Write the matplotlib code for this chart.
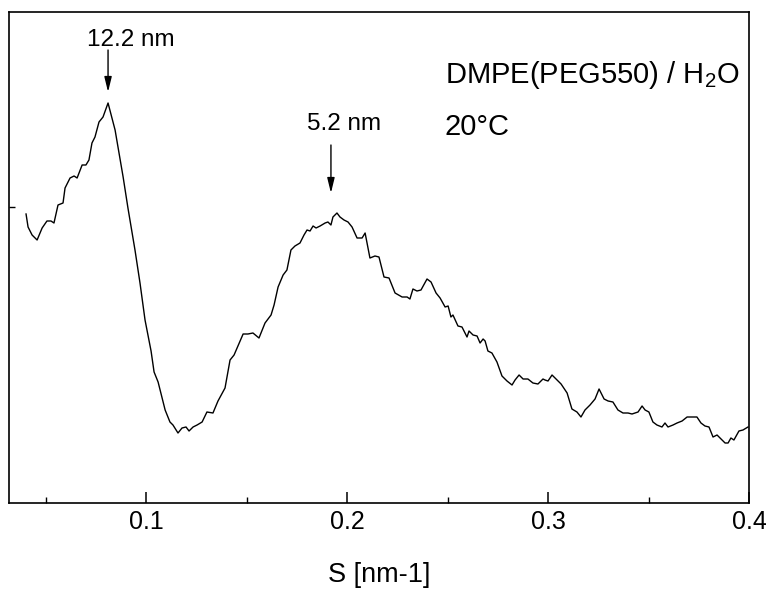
import matplotlib
matplotlib.use("Agg")
import matplotlib.pyplot as plt
from matplotlib.ticker import FixedLocator, NullFormatter

plt.rcParams.update(
    {
        "font.family": ["Liberation Sans", "DejaVu Sans"],
        "mathtext.default": "regular",
        "figure.dpi": 100,
    }
)

# scattering vector S [nm^-1] and intensity (arbitrary units)
s_values = [
    0.0403, 0.0413, 0.0433, 0.0458, 0.0483, 0.0507, 0.0527, 0.0542, 0.0562, 0.0587,
    0.0597, 0.0622, 0.0642, 0.0657, 0.0682, 0.0701, 0.0716, 0.0731, 0.0746, 0.0766,
    0.0786, 0.0811, 0.0846, 0.0886, 0.0910, 0.0945, 0.0970, 0.0995, 0.1025, 0.1040,
    0.1060, 0.1095, 0.1119, 0.1134, 0.1159, 0.1179, 0.1199, 0.1214, 0.1234, 0.1254,
    0.1279, 0.1303, 0.1333, 0.1358, 0.1393, 0.1418, 0.1438, 0.1483, 0.1507, 0.1532,
    0.1562, 0.1592, 0.1622, 0.1637, 0.1657, 0.1682, 0.1701, 0.1721, 0.1741, 0.1766,
    0.1786, 0.1801, 0.1816, 0.1831, 0.1846, 0.1866, 0.1891, 0.1905, 0.1920, 0.1930,
    0.1950, 0.1965, 0.1985, 0.2005, 0.2025, 0.2050, 0.2075, 0.2090, 0.2114, 0.2139,
    0.2159, 0.2184, 0.2209, 0.2239, 0.2274, 0.2299, 0.2313, 0.2328, 0.2348, 0.2368,
    0.2398, 0.2418, 0.2443, 0.2463, 0.2488, 0.2503, 0.2517, 0.2527, 0.2552, 0.2572,
    0.2597, 0.2607, 0.2627, 0.2647, 0.2662, 0.2677, 0.2687, 0.2701, 0.2721, 0.2746,
    0.2771, 0.2796, 0.2821, 0.2836, 0.2856, 0.2876, 0.2900, 0.2925, 0.2950, 0.2975,
    0.2985, 0.3000, 0.3020, 0.3040, 0.3065, 0.3095, 0.3119, 0.3144, 0.3164, 0.3184,
    0.3209, 0.3234, 0.3254, 0.3279, 0.3299, 0.3323, 0.3348, 0.3373, 0.3398, 0.3418,
    0.3433, 0.3448, 0.3468, 0.3483, 0.3502, 0.3522, 0.3542, 0.3567, 0.3582, 0.3597,
    0.3622, 0.3642, 0.3667, 0.3692, 0.3716, 0.3741, 0.3761, 0.3781, 0.3801, 0.3821,
    0.3841, 0.3866, 0.3881, 0.3896, 0.3910, 0.3925, 0.3950, 0.3970, 0.3995,
]
intensity = [
    289, 276, 268, 263, 275, 282, 282, 280, 298, 300,
    315, 325, 327, 325, 338, 338, 343, 360, 366, 381,
    386, 400, 373, 326, 295, 253, 220, 183, 152, 131,
    121, 93, 81, 78, 70, 75, 76, 72, 76, 78,
    81, 91, 90, 102, 115, 143, 148, 169, 169, 170,
    165, 180, 188, 198, 216, 228, 233, 253, 257, 260,
    268, 273, 272, 277, 275, 277, 280, 281, 278, 286,
    290, 286, 283, 281, 276, 265, 265, 270, 245, 247,
    246, 226, 225, 210, 206, 206, 204, 214, 212, 213,
    224, 221, 210, 205, 196, 197, 186, 188, 177, 176,
    166, 172, 168, 167, 160, 164, 162, 152, 150, 141,
    127, 122, 118, 123, 128, 124, 124, 120, 119, 124,
    123, 122, 128, 124, 119, 110, 94, 91, 86, 93,
    98, 104, 114, 104, 102, 101, 93, 90, 90, 89,
    90, 91, 97, 93, 91, 81, 78, 76, 80, 76,
    78, 80, 82, 86, 86, 86, 80, 77, 76, 66,
    68, 63, 60, 60, 65, 63, 72, 73, 76,
]

x_major = [0.1, 0.2, 0.3, 0.4]
x_minor = [0.05, 0.15, 0.25, 0.35]
x_labels = ["0.1", "0.2", "0.3", "0.4"]
y_ticks = [296]

fig = plt.figure(figsize=(7.66, 5.91))
ax = fig.add_axes([0.0117, 0.1489, 0.9661, 0.8308])

ax.plot(s_values, intensity, color="black", linewidth=1.0)

ax.set_xlim(0.0318, 0.4)
ax.set_ylim(0, 491)

ax.xaxis.set_major_locator(FixedLocator(x_major))
ax.xaxis.set_minor_locator(FixedLocator(x_minor))
ax.set_xticklabels(x_labels)
ax.xaxis.set_minor_formatter(NullFormatter())
ax.set_yticks(y_ticks)
ax.set_yticklabels([])
ax.tick_params(axis="x", which="major", direction="in", length=8, width=1.1, labelsize=18, pad=5)
ax.tick_params(axis="x", which="minor", direction="in", length=4.5, width=1.0)
ax.tick_params(axis="y", which="major", direction="in", length=4.5, width=1.0)
for spine in ax.spines.values():
    spine.set_linewidth(1.2)

ax.set_xlabel("S [nm-1]", fontsize=19.5, va="center")
ax.xaxis.set_label_coords(0.5, -0.1466)

arrow = dict(arrowstyle="-|>,head_length=0.9,head_width=0.22", color="black", linewidth=1.0,
             shrinkA=0, shrinkB=0)
ax.annotate("", xy=(0.0811, 411), xytext=(0.0811, 453), arrowprops=arrow)
ax.annotate("", xy=(0.1920, 310), xytext=(0.1920, 358), arrowprops=arrow)

ax.text(0.0925, 457, "12.2 nm", fontsize=17.5, ha="center", va="baseline")
ax.text(0.1985, 373, "5.2 nm", fontsize=17.5, ha="center", va="baseline")
ax.text(0.2487, 420, "DMPE(PEG550) / H$_2$O", fontsize=21, ha="left", va="baseline")
ax.text(0.2487, 368, "20°C", fontsize=21, ha="left", va="baseline")

fig.savefig("out.png", dpi=100)
